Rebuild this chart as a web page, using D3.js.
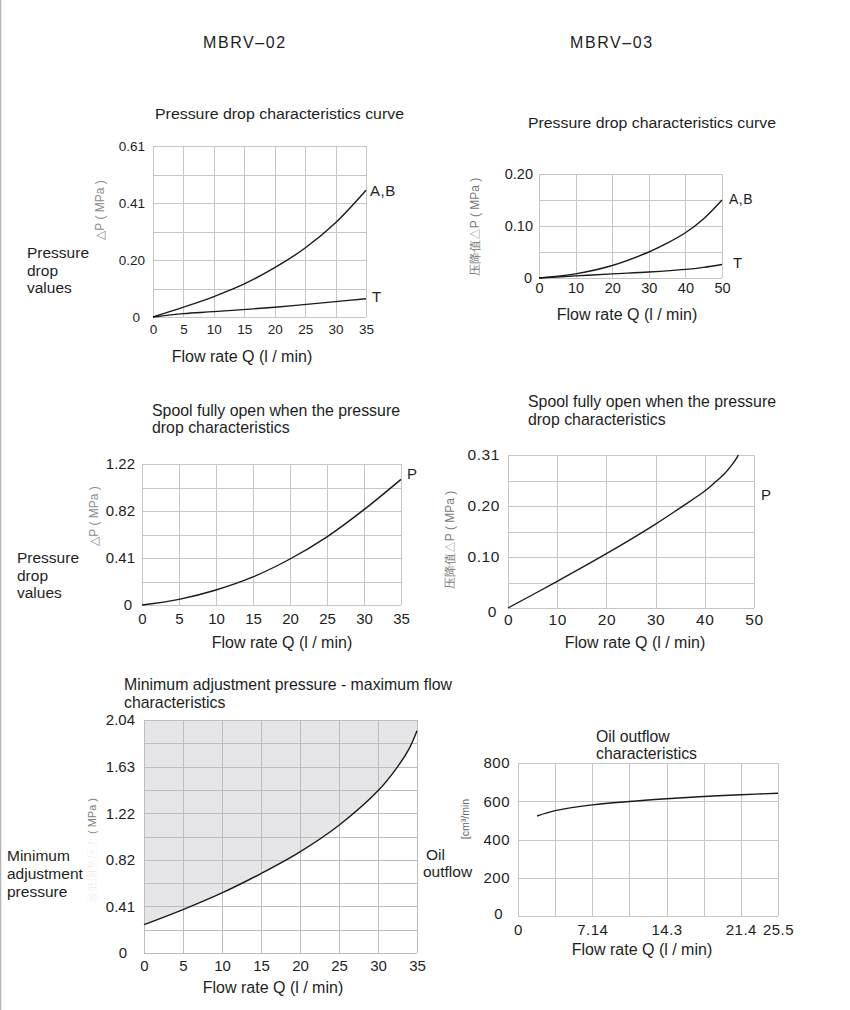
<!DOCTYPE html>
<html><head><meta charset="utf-8">
<script src="https://cdn.jsdelivr.net/npm/d3@7"></script>
<style>
body{margin:0;background:#fff}
svg{display:block}
text{font-family:"Liberation Sans",Arial,sans-serif;fill:#1e1e1e}
</style>
</head><body>
<svg id="c" width="850" height="1010"></svg>
<script>
// ---------------- DATA ----------------
// Chart 1: MBRV-02 pressure drop
const c1Flow   = [0, 5, 10, 15, 20, 25, 30, 35];
const c1AB     = [0, 0.035, 0.073, 0.118, 0.176, 0.246, 0.336, 0.452];
const c1FlowT  = [0, 5, 10, 20, 30, 35];
const c1T      = [0, 0.012, 0.019, 0.035, 0.055, 0.065];
const c1XTicks = [0, 5, 10, 15, 20, 25, 30, 35];
const c1YTickLabels = ["0", "0.20", "0.41", "0.61"];

// Chart 2: MBRV-03 pressure drop
const c2Flow   = [0, 10, 20, 30, 35, 40, 45, 50];
const c2AB     = [0, 0.008, 0.024, 0.05, 0.067, 0.087, 0.114, 0.15];
const c2FlowT  = [0, 10, 20, 30, 40, 45, 50];
const c2T      = [0, 0.004, 0.008, 0.0115, 0.0165, 0.0205, 0.026];
const c2XTicks = [0, 10, 20, 30, 40, 50];
const c2YTickLabels = ["0", "0.10", "0.20"];

// Chart 3: MBRV-02 spool fully open
const c3Flow   = [0, 5, 10, 15, 20, 25, 30, 35];
const c3P      = [0, 0.049, 0.13, 0.243, 0.398, 0.59, 0.825, 1.087];
const c3XTicks = [0, 5, 10, 15, 20, 25, 30, 35];
const c3YTickLabels = ["0", "0.41", "0.82", "1.22"];

// Chart 4: MBRV-03 spool fully open
const c4Flow   = [0, 10, 20, 30, 35, 40, 42, 44, 45.5, 46.5, 46.8];
const c4P      = [0, 0.054, 0.11, 0.17, 0.203, 0.237, 0.254, 0.272, 0.29, 0.304, 0.31];
const c4XTicks = [0, 10, 20, 30, 40, 50];
const c4YTickLabels = ["0", "0.10", "0.20", "0.31"];

// Chart 5: minimum adjustment pressure - maximum flow
const c5Flow   = [0, 5, 10, 15, 20, 25, 30, 32.5, 34, 35];
const c5P      = [0.248, 0.38, 0.526, 0.696, 0.886, 1.119, 1.42, 1.63, 1.79, 1.946];
const c5XTicks = [0, 5, 10, 15, 20, 25, 30, 35];
const c5YTickLabels = ["0", "0.41", "0.82", "1.22", "1.63", "2.04"];

// Chart 6: oil outflow
const c6Flow   = [1.83, 3.57, 7.14, 10.71, 14.28, 17.85, 21.42, 25];
const c6Out    = [523, 551, 581, 599, 613, 625, 634, 642];
const c6XTickLabels = ["0", "7.14", "14.3", "21.4", "25.5"];
const c6YTicks = [0, 200, 400, 600, 800];

// ---------------- DRAW ----------------
const svg = d3.select("#c");
svg.append("line").attr("x1",0.5).attr("x2",0.5).attr("y1",0).attr("y2",1010)
  .attr("stroke","#b4b4b4").attr("stroke-width",1.5);

function txt(x, y, s, opt={}) {
  const t = svg.append("text").attr("x", x).attr("y", y).text(s)
    .attr("font-size", opt.size || 14);
  if (opt.anchor) t.attr("text-anchor", opt.anchor);
  if (opt.ls) t.attr("letter-spacing", opt.ls);
  if (opt.fill) t.style("fill", opt.fill);
  return t;
}
function lines(x, y, arr, dy, opt) { arr.forEach((s,i)=>txt(x, y+i*dy, s, opt)); }
// lines compressed horizontally so that line refIdx has the given width
function fitLines(x, y, arr, dy, size, refWidth, refIdx=0) {
  const els = arr.map((s,i)=>txt(x, y+i*dy, s, {size}));
  const k = refWidth / els[refIdx].node().getComputedTextLength();
  els.forEach(e => {
    const w = e.node().getComputedTextLength();
    e.attr("textLength", w*k).attr("lengthAdjust","spacingAndGlyphs");
  });
}

const smooth = d3.curveCatmullRom.alpha(0.5);

function chart(cfg) {
  const g = svg.append("g");
  const x = d3.scaleLinear().domain(cfg.xDomain).range([cfg.left, cfg.right]);
  const y = d3.scaleLinear().domain(cfg.yDomain).range([cfg.bottom, cfg.top]);
  const h = cfg.bottom - cfg.top, w = cfg.right - cfg.left;

  if (cfg.fillArea) {
    const s = cfg.fillArea;
    const area = d3.area().x(d=>x(d[0])).y0(cfg.top).y1(d=>y(d[1])).curve(smooth);
    g.append("path").datum(s.x.map((v,i)=>[v, s.y[i]])).attr("d", area).attr("fill", "#e6e5e7");
  }

  // grid
  const gx = g.append("g").attr("transform", `translate(0,${cfg.bottom})`)
    .call(d3.axisBottom(x).tickValues(cfg.xGrid).tickSize(-h).tickFormat(""));
  const gy = g.append("g").attr("transform", `translate(${cfg.left},0)`)
    .call(d3.axisLeft(y).tickValues(cfg.yGrid).tickSize(-w).tickFormat(""));
  [gx, gy].forEach(a => {
    a.select(".domain").remove();
    a.selectAll("line").attr("stroke", cfg.gridColor || "#c6c6c6").attr("stroke-width", 1)
      .attr("shape-rendering","crispEdges");
  });

  // tick labels
  const fs = cfg.fontSize;
  const ax = g.append("g").attr("transform", `translate(0,${cfg.bottom})`)
    .call(d3.axisBottom(x).tickValues(cfg.xTicks).tickSize(0).tickPadding(cfg.xPad)
      .tickFormat((d,i)=>cfg.xTickLabels ? cfg.xTickLabels[i] : d));
  ax.select(".domain").remove();
  ax.selectAll("text").attr("font-size", fs).attr("font-family", null)
    .attr("letter-spacing", cfg.ls || 0).style("fill","#1e1e1e");
  const ay = g.append("g").attr("transform", `translate(${cfg.left},0)`)
    .call(d3.axisLeft(y).tickValues(cfg.yTicks).tickSize(0).tickPadding(cfg.yPad)
      .tickFormat((d,i)=>cfg.yTickLabels ? cfg.yTickLabels[i] : d));
  ay.select(".domain").remove();
  ay.selectAll("text").attr("font-size", fs).attr("font-family", null)
    .attr("letter-spacing", cfg.ls || 0).style("fill","#1e1e1e");
  ay.selectAll(".tick").filter((d,i)=>i===0).select("text")
    .attr("dx", cfg.zeroShift[0]).attr("dy", (0.32 + cfg.zeroShift[1]/fs) + "em");

  // curves
  const line = d3.line().x(d=>x(d[0])).y(d=>y(d[1])).curve(smooth);
  cfg.series.forEach(s => {
    g.append("path").datum(s.x.map((v,i)=>[v, s.y[i]]))
      .attr("d", line).attr("fill","none").attr("stroke","#1a1a1a").attr("stroke-width",1.4);
  });
}

function vlabel(cx, cy, s, size, fill, cjk) {
  const t = txt(0, 0, s, {size, anchor:"middle", fill})
    .attr("transform", `translate(${cx},${cy}) rotate(-90)`);
  if (cjk) t.attr("font-family", "'Noto Sans CJK SC','Liberation Sans',sans-serif");
  return t;
}

// Headers
txt(203, 48, "MBRV\u201302", {size:16, ls:1.6});
txt(570, 48, "MBRV\u201303", {size:16, ls:1.6});

// Chart 1
chart({
  left:153, right:366, top:146, bottom:317,
  xDomain:[0,35], yDomain:[0,0.61],
  xGrid:c1XTicks, yGrid:d3.range(7).map(i=>i*0.61/6),
  xTicks:c1XTicks, yTicks:[0,2,4,6].map(i=>i*0.61/6), yTickLabels:c1YTickLabels,
  fontSize:13.5, xPad:7, yPad:8, zeroShift:[-5,0],
  series:[{x:c1Flow, y:c1AB},{x:c1FlowT, y:c1T}]
});
fitLines(155, 119, ["Pressure drop characteristics curve"], 0, 15.5, 249);
txt(370, 196, "A,B", {size:15, ls:0.5});
txt(372, 302, "T", {size:15});
txt(242, 362, "Flow rate Q (l / min)", {size:16, anchor:"middle"});
lines(27, 258, ["Pressure","drop","values"], 17.5, {size:15.5});
vlabel(104, 210, "\u25B3P ( MPa )", 12, "#8a8a8a");

// Chart 2
chart({
  left:539, right:722, top:174, bottom:278,
  xDomain:[0,50], yDomain:[0,0.20],
  xGrid:c2XTicks, yGrid:[0,0.05,0.10,0.15,0.20],
  xTicks:c2XTicks, yTicks:[0,0.10,0.20], yTickLabels:c2YTickLabels,
  fontSize:14.5, xPad:5, yPad:6, zeroShift:[-1,0],
  series:[{x:c2Flow, y:c2AB},{x:c2FlowT, y:c2T}]
});
fitLines(528, 128, ["Pressure drop characteristics curve"], 0, 15.5, 248);
txt(729, 204, "A,B", {size:14, ls:0.5});
txt(733, 268, "T", {size:15});
txt(627, 320, "Flow rate Q (l / min)", {size:16, anchor:"middle"});
vlabel(479, 227, "\u538B\u964D\u503C\u25B3P ( MPa )", 12, "#7a7a7a", true);

// Chart 3
chart({
  left:142, right:401, top:464, bottom:605,
  xDomain:[0,35], yDomain:[0,1.22],
  xGrid:c3XTicks, yGrid:d3.range(7).map(i=>i*1.22/6),
  xTicks:c3XTicks, yTicks:[0,2,4,6].map(i=>i*1.22/6), yTickLabels:c3YTickLabels,
  fontSize:15, xPad:8, yPad:7, zeroShift:[-3,0],
  series:[{x:c3Flow, y:c3P}]
});
fitLines(152, 416, ["Spool fully open when the pressure","drop characteristics"], 17, 17, 248);
txt(407, 479, "P", {size:15});
txt(282, 648, "Flow rate Q (l / min)", {size:16, anchor:"middle"});
lines(17, 563, ["Pressure","drop","values"], 17.5, {size:15.5});
vlabel(98, 516, "\u25B3P ( MPa )", 12, "#8a8a8a");

// Chart 4
chart({
  left:508, right:754, top:455, bottom:608,
  xDomain:[0,50], yDomain:[0,0.31],
  xGrid:c4XTicks, yGrid:d3.range(7).map(i=>i*0.31/6),
  xTicks:c4XTicks, yTicks:[0,2,4,6].map(i=>i*0.31/6), yTickLabels:c4YTickLabels,
  fontSize:15.5, ls:0.6, xPad:6, yPad:8, zeroShift:[-3,4],
  series:[{x:c4Flow, y:c4P}]
});
fitLines(528, 407, ["Spool fully open when the pressure","drop characteristics"], 18, 17, 248);
txt(761, 500, "P", {size:15});
txt(635, 648, "Flow rate Q (l / min)", {size:16, anchor:"middle"});
vlabel(454, 540, "\u538B\u964D\u503C\u25B3P ( MPa )", 12, "#7a7a7a", true);

// Chart 5
chart({
  left:144, right:417, top:720, bottom:953,
  xDomain:[0,35], yDomain:[0,2.04],
  xGrid:c5XTicks, yGrid:d3.range(11).map(i=>i*0.204),
  xTicks:c5XTicks, yTicks:[0,2,4,6,8,10].map(i=>i*0.204), yTickLabels:c5YTickLabels,
  fontSize:15, xPad:7, yPad:9, zeroShift:[-8,0],
  gridColor:"#bdbdbd",
  fillArea:{x:c5Flow, y:c5P},
  series:[{x:c5Flow, y:c5P}]
});
fitLines(124, 690, ["Minimum adjustment pressure - maximum flow","characteristics"], 17.5, 17, 328);
txt(273, 993, "Flow rate Q (l / min)", {size:16, anchor:"middle"});
lines(7, 861, ["Minimum","adjustment","pressure"], 18, {size:15.5});
{
  const t = svg.append("text").attr("text-anchor","end").attr("font-size",11)
    .attr("font-family","'Noto Sans CJK SC','Liberation Sans',sans-serif")
    .attr("transform","translate(96,798) rotate(-90)");
  t.append("tspan").text("\u6700\u4F4E\u8C03\u6574\u538B\u529B").style("fill","#000").attr("fill-opacity",0.08);
  t.append("tspan").text(" ( MPa )").style("fill","#808080");
}

// Chart 6
chart({
  left:518, right:778, top:763, bottom:916,
  xDomain:[0,25], yDomain:[0,800],
  xGrid:d3.range(8).map(i=>i*25/7), yGrid:c6YTicks,
  xTicks:[0,2,4,6,7].map(i=>i*25/7), xTickLabels:c6XTickLabels,
  yTicks:c6YTicks,
  fontSize:15, ls:0.5, xPad:8, yPad:8, zeroShift:[-7,-2],
  series:[{x:c6Flow, y:c6Out}]
});
fitLines(596, 742, ["Oil outflow","characteristics"], 17, 17, 101, 1);
txt(642, 955, "Flow rate Q (l / min)", {size:16, anchor:"middle"});
txt(426, 860, "Oil", {size:15.5});
txt(423, 877, "outflow", {size:15.5});
vlabel(469, 819, "[cm\u00B3/min", 10.5, "#666");
</script>
</body></html>
